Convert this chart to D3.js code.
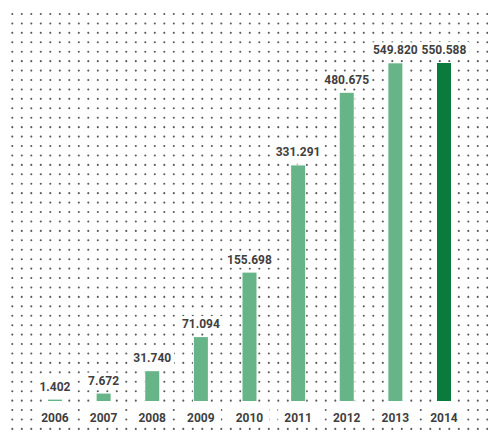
<!DOCTYPE html>
<html><head><meta charset="utf-8">
<script src="https://cdn.jsdelivr.net/npm/d3@7"></script>
<style>body{margin:0;background:#fff}svg{display:block}</style>
</head><body>
<svg id="c" width="488" height="434"></svg>
<script>
const years = ["2006","2007","2008","2009","2010","2011","2012","2013","2014"];
const values = [1.402, 7.672, 31.740, 71.094, 155.698, 331.291, 480.675, 549.820, 550.588];
const valueLabels = ["1.402","7.672","31.740","71.094","155.698","331.291","480.675","549.820","550.588"];
const highlightYear = "2014";

const W = 488, H = 434;
const svg = d3.select("#c");

// dotted background grid
const gx = d3.range(12.3, W, 9.5), gy = d3.range(14, H, 9.43);
const dots = [];
gy.forEach(y => gx.forEach(x => dots.push([x, y])));
svg.append("g").selectAll("circle").data(dots).join("circle")
  .attr("cx", d => d[0]).attr("cy", d => d[1]).attr("r", 1.05).attr("fill", "#5a5a5a");

const x = d3.scalePoint().domain(years).range([55, 444]);
const y = d3.scaleSymlog().constant(400).domain([0, d3.max(values)]).range([401, 63]);
const bw = 14;
const font = "Roboto, 'Noto Sans', sans-serif";

const g = svg.append("g");
// white backgrounds first
g.append("g").selectAll("rect").data(years).join("rect")
  .attr("x", (d,i) => x(d) - valueLabels[i].length*3.3 - 2)
  .attr("y", (d,i) => y(values[i]) - 21)
  .attr("width", (d,i) => valueLabels[i].length*6.6 + 4)
  .attr("height", 16).attr("fill", "#fff");
g.append("g").selectAll("rect").data(years).join("rect")
  .attr("x", d => x(d) - 20).attr("y", 406).attr("width", 40).attr("height", 20)
  .attr("fill", "#fff");

g.append("g").selectAll("rect").data(years).join("rect")
  .attr("x", d => x(d) - bw/2)
  .attr("y", (d,i) => y(values[i]))
  .attr("width", bw)
  .attr("height", (d,i) => y(0) - y(values[i]))
  .attr("fill", d => d === highlightYear ? "#0b7a3d" : "#66b487")
  .attr("stroke", "#fff").attr("stroke-width", 2).attr("paint-order","stroke");

g.append("g").selectAll("text").data(years).join("text")
  .attr("x", d => x(d))
  .attr("y", (d,i) => y(values[i]) - 9)
  .attr("text-anchor", "middle")
  .attr("font-family", font).attr("font-size", 12).attr("font-weight", "bold")
  .attr("fill", "#3f3f3f")
  .text((d,i) => valueLabels[i]);

g.append("g").selectAll("text").data(years).join("text")
  .attr("x", d => x(d)).attr("y", 422)
  .attr("text-anchor", "middle")
  .attr("font-family", font).attr("font-size", 12).attr("font-weight", "bold")
  .attr("fill", "#3f3f3f")
  .text(d => d);
</script>
</body></html>
